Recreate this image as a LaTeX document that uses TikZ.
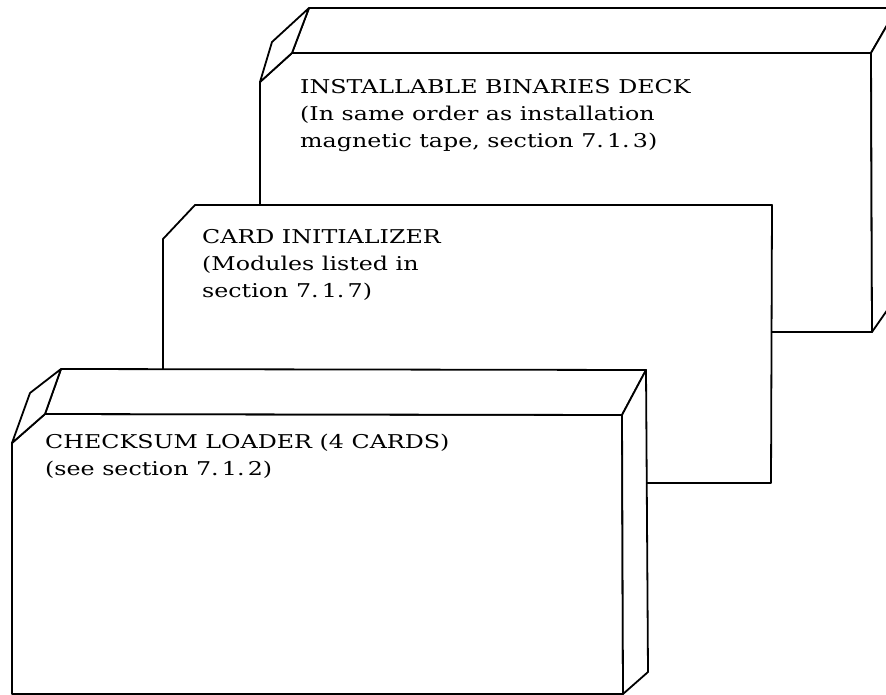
\documentclass[tikz,border=0pt]{standalone}
\usepackage{fontspec}
\setmainfont{DejaVu Serif}[FakeStretch=1.25]
\usetikzlibrary{calc}

\newcommand{\decksize}{\fontsize{19}{27}\selectfont}

\begin{document}
\begin{tikzpicture}[
  x=1pt, y=-1pt,
  deckface/.style={draw=black, fill=white, line width=1.8pt, line join=round},
  decktext/.style={anchor=base west, align=left, inner sep=0pt, font=\decksize},
]
\useasboundingbox (0,0) rectangle (886,695);
\clip (0,0) rectangle (886,695);

%% Back deck: installable binaries
\coordinate (bfl) at (260,82);  % front face, below the cut corner
\coordinate (bfc) at (292,53);  % front face, top of the cut corner
\coordinate (bfr) at (871,53);
\coordinate (bbr) at (872,332);
\draw[deckface] (bfl) -- (bfc) -- (bfr) -- (bbr) -- (260,332) -- cycle;
\draw[deckface] (bfc) -- (309,8) -- (897,8) -- (bfr) -- cycle;
\draw[deckface] (bfl) -- (272,42) -- (309,8) -- (bfc) -- cycle;
\draw[deckface] (bfr) -- (897,8) -- (897,296) -- (bbr) -- cycle;
% anchor is the baseline of the last line
\node[decktext] (binaries) at (300,148)
  {INSTALLABLE BINARIES DECK\\(In same order as installation\\magnetic tape, section 7.\,1.\,3)};

%% Middle deck: card initializer
\draw[deckface] (163,239) -- (195,205) -- (772,205) -- (771,483) -- (163,483) -- cycle;
\node[decktext] (initializer) at (202,297)
  {CARD INITIALIZER\\(Modules listed in\\section 7.\,1.\,7)};

%% Front deck: checksum loader
\coordinate (ffl) at (12,443);
\coordinate (ffc) at (45,414);
\coordinate (ffr) at (622,415);
\coordinate (fbr) at (623,694);
\draw[deckface] (ffl) -- (ffc) -- (ffr) -- (fbr) -- (12,694) -- cycle;
\draw[deckface] (ffc) -- (61,369) -- (646,370) -- (ffr) -- cycle;
\draw[deckface] (ffl) -- (30,393) -- (61,369) -- (ffc) -- cycle;
\draw[deckface] (ffr) -- (646,370) -- (648,672) -- (fbr) -- cycle;
\node[decktext] (loader) at (45,475)
  {CHECKSUM LOADER (4 CARDS)\\(see section 7.\,1.\,2)};

\end{tikzpicture}
\end{document}
